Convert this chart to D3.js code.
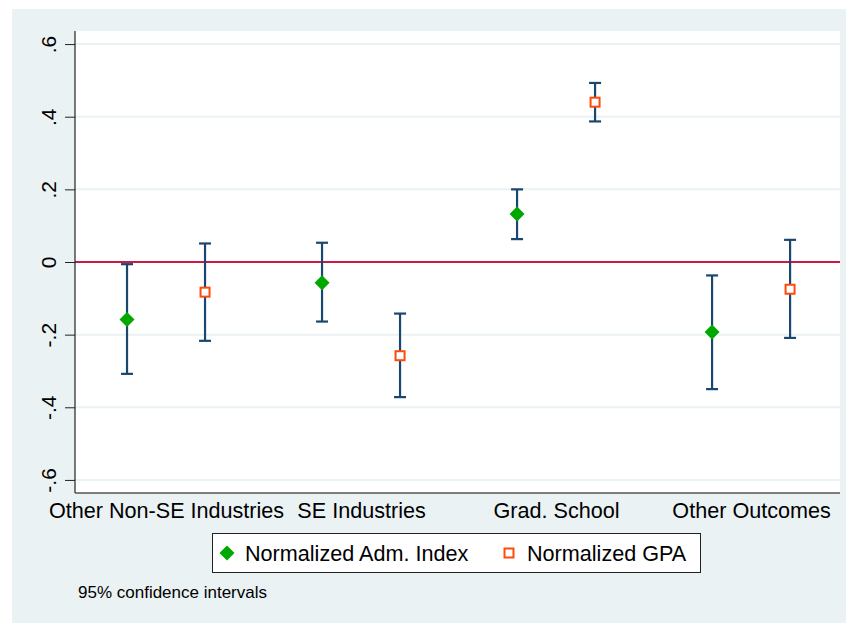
<!DOCTYPE html>
<html><head><meta charset="utf-8">
<script src="https://cdn.jsdelivr.net/npm/d3@7"></script>
<style>html,body{margin:0;padding:0;background:#fff}svg{display:block;font-family:"Liberation Sans",Arial,sans-serif}</style>
</head><body><svg id="c" width="846" height="623"></svg>
<script>
const categories = ["Other Non-SE Industries", "SE Industries", "Grad. School", "Other Outcomes"];
const seriesNames = ["Normalized Adm. Index", "Normalized GPA"];
const admEst = [-0.158, -0.057, 0.132, -0.193];
const admLo  = [-0.308, -0.164, 0.063, -0.350];
const admHi  = [-0.006, 0.053, 0.200, -0.037];
const gpaEst = [-0.083, -0.258, 0.440, -0.075];
const gpaLo  = [-0.217, -0.372, 0.387, -0.209];
const gpaHi  = [0.051, -0.142, 0.493, 0.061];
const yTicks = [-0.6, -0.4, -0.2, 0, 0.2, 0.4, 0.6];
const yTickLabels = ["-.6", "-.4", "-.2", "0", ".2", ".4", ".6"];
const note = "95% confidence intervals";

const svg = d3.select("#c");
const L = 75, R = 840, T = 31, B = 493;

// outer background
svg.append("rect").attr("x", 12).attr("y", 9).attr("width", 846 - 12).attr("height", 623 - 9).attr("fill", "#EAF2F3");
svg.append("rect").attr("x", L).attr("y", T).attr("width", R - L).attr("height", B - T).attr("fill", "#fff");

// x positions: 1,2 | 3.5,4.5 | 6,7 | 8.5,9.5
const x = d3.scaleLinear().domain([0.333, 10.14]).range([L, R]);
const y = d3.scaleLinear().domain([-0.636, 0.636]).range([B, T]);
const groupPos = categories.map((c, i) => 1 + 2.5 * i);

// gridlines
svg.append("g").selectAll("line").data(yTicks.filter(v => v !== 0)).join("line")
  .attr("x1", L).attr("x2", R).attr("y1", d => y(d)).attr("y2", d => y(d))
  .attr("stroke", "#EAF2F3").attr("stroke-width", 2);

// zero line
svg.append("line").attr("x1", L).attr("x2", R).attr("y1", y(0)).attr("y2", y(0))
  .attr("stroke", "#CC1844").attr("stroke-width", 2);

// y axis
const yAxis = d3.axisLeft(y).tickValues(yTicks).tickSize(10).tickFormat((d, i) => yTickLabels[i]);
const gy = svg.append("g").attr("transform", `translate(${L},0)`).call(yAxis);
gy.attr("font-size", null).attr("font-family", null);
gy.select(".domain").attr("stroke", "#222").attr("stroke-width", 1.2).attr("d", `M0,${B}V${T}`);
gy.selectAll(".tick line").attr("stroke", "#222");
gy.selectAll(".tick text").style("font-size", "21px").attr("fill", "#000")
  .style("font-family", '"Liberation Sans",Arial,sans-serif')
  .attr("text-anchor", "middle").attr("dy", 0)
  .attr("transform", "translate(-27,0) rotate(-90)").attr("x", 0).attr("y", 0)
  .attr("dominant-baseline", "central");

// bottom axis line
svg.append("line").attr("x1", L).attr("x2", R).attr("y1", B).attr("y2", B).attr("stroke", "#555").attr("stroke-width", 1.5);

// category labels
const xCat = d3.axisBottom(x).tickValues(groupPos.map(p => p + 0.5)).tickSize(0).tickFormat((d, i) => categories[i]);
const gx = svg.append("g").attr("transform", `translate(0,${B})`).call(xCat);
gx.attr("font-size", null).attr("font-family", null);
gx.select(".domain").remove();
gx.selectAll(".tick text").style("font-size", "21.6px").attr("fill", "#000")
  .style("font-family", '"Liberation Sans",Arial,sans-serif').attr("dy", 0).attr("y", 25);

// series
const series = [
  {name: seriesNames[0], est: admEst, lo: admLo, hi: admHi, off: 0},
  {name: seriesNames[1], est: gpaEst, lo: gpaLo, hi: gpaHi, off: 1}
];
const capW = 6;
series.forEach(s => {
  const g = svg.append("g");
  const data = categories.map((c, i) => ({xp: groupPos[i] + s.off, e: s.est[i], lo: s.lo[i], hi: s.hi[i]}));
  g.selectAll(".v").data(data).join("line")
    .attr("x1", d => x(d.xp)).attr("x2", d => x(d.xp)).attr("y1", d => y(d.lo)).attr("y2", d => y(d.hi))
    .attr("stroke", "#1A476F").attr("stroke-width", 2.2);
  ["lo", "hi"].forEach(k => {
    g.selectAll(".c" + k).data(data).join("line")
      .attr("x1", d => x(d.xp) - capW).attr("x2", d => x(d.xp) + capW).attr("y1", d => y(d[k])).attr("y2", d => y(d[k]))
      .attr("stroke", "#1A476F").attr("stroke-width", 2.2);
  });
  if (s.off === 0) {
    g.selectAll(".m").data(data).join("path")
      .attr("d", d => { const cx = x(d.xp), cy = y(d.e), r = 7.5; return `M${cx},${cy - r}L${cx + r},${cy}L${cx},${cy + r}L${cx - r},${cy}Z`; })
      .attr("fill", "#00A800");
  } else {
    g.selectAll(".m").data(data).join("rect")
      .attr("x", d => x(d.xp) - 4.5).attr("y", d => y(d.e) - 4.5).attr("width", 9).attr("height", 9)
      .attr("fill", "#fff").attr("stroke", "#FF4A0A").attr("stroke-width", 2);
  }
});

// legend
const lg = svg.append("g");
lg.append("rect").attr("x", 212.5).attr("y", 533.5).attr("width", 488).attr("height", 39).attr("fill", "#fff").attr("stroke", "#222").attr("stroke-width", 1);
const ly = 553;
lg.append("path").attr("d", `M227,${ly - 7.5}L234.5,${ly}L227,${ly + 7.5}L219.5,${ly}Z`).attr("fill", "#00A800");
lg.append("text").attr("x", 245).attr("y", ly).attr("dominant-baseline", "central").style("font-size", "21.6px").text(seriesNames[0]);
lg.append("rect").attr("x", 504.5).attr("y", ly - 4.5).attr("width", 9).attr("height", 9).attr("fill", "#fff").attr("stroke", "#FF4A0A").attr("stroke-width", 2);
lg.append("text").attr("x", 527).attr("y", ly).attr("dominant-baseline", "central").style("font-size", "21.6px").text(seriesNames[1]);

svg.append("text").attr("x", 78).attr("y", 598).style("font-size", "17px").text(note);
</script></body></html>
